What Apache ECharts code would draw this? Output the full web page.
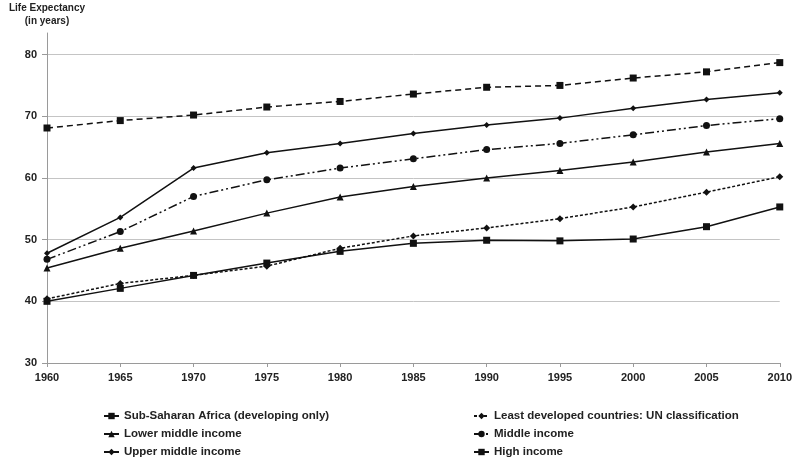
<!DOCTYPE html>
<html>
<head>
<meta charset="utf-8">
<script src="https://cdn.jsdelivr.net/npm/echarts@6/dist/echarts.min.js"></script>
<style>
  html, body { margin: 0; padding: 0; background: #fff; }
  #chart { width: 795px; height: 458px; }
</style>
</head>
<body>
<div id="chart"></div>
<script>
// Life expectancy at birth by income group, 1960–2010
const years = ['1960', '1965', '1970', '1975', '1980', '1985', '1990', '1995', '2000', '2005', '2010'];
const yTicks = [30, 40, 50, 60, 70, 80];

const subSaharanAfrica = [40.0, 42.1, 44.2, 46.2, 48.1, 49.4, 49.9, 49.8, 50.1, 52.1, 55.3];
const leastDeveloped   = [40.4, 42.9, 44.2, 45.7, 48.6, 50.6, 51.9, 53.4, 55.3, 57.7, 60.2];
const lowerMiddle      = [45.4, 48.6, 51.4, 54.3, 56.9, 58.6, 60.0, 61.2, 62.6, 64.2, 65.6];
const middleIncome     = [46.8, 51.3, 57.0, 59.7, 61.6, 63.1, 64.6, 65.6, 67.0, 68.5, 69.6];
const upperMiddle      = [47.8, 53.6, 61.6, 64.1, 65.6, 67.2, 68.6, 69.7, 71.3, 72.7, 73.8];
const highIncome       = [68.1, 69.3, 70.2, 71.5, 72.4, 73.6, 74.7, 75.0, 76.2, 77.2, 78.7];

const names = {
  ssa: 'Sub-Saharan Africa (developing only)',
  ldc: 'Least developed countries: UN classification',
  lmi: 'Lower middle income',
  mi: 'Middle income',
  umi: 'Upper middle income',
  hi: 'High income'
};

const ink = '#111';
const font = 'Liberation Sans, Arial, sans-serif';

function line(name, data, symbol, size, dash) {
  return {
    name: name,
    type: 'line',
    data: data,
    symbol: symbol,
    symbolSize: size,
    showSymbol: true,
    animation: false,
    itemStyle: { color: ink },
    lineStyle: { color: ink, width: 1.5, type: dash || 'solid' }
  };
}

const legendText = { fontFamily: font, fontSize: 11.5, fontWeight: 'bold', color: '#222' };
const legendBase = {
  orient: 'vertical', top: 410, height: 80, padding: 0,
  itemGap: 6, itemWidth: 15, itemHeight: 8,
  textStyle: legendText
};

const chart = echarts.init(document.getElementById('chart'), null, { renderer: 'canvas' });
chart.setOption({
  backgroundColor: '#fff',
  animation: false,
  grid: { left: 47, right: 12, top: 33, bottom: 95, containLabel: false },
  xAxis: {
    type: 'category',
    data: years,
    boundaryGap: false,
    axisLine: { lineStyle: { color: '#9a9a9a', width: 1 } },
    axisTick: { show: true, length: 4, lineStyle: { color: '#9a9a9a' } },
    axisLabel: { fontFamily: font, fontSize: 11, fontWeight: 'bold', color: '#222', margin: 9 },
    splitLine: { show: false }
  },
  yAxis: {
    type: 'value',
    min: 30,
    max: 83.5,
    name: 'Life Expectancy\n(in years)',
    nameLocation: 'end',
    nameGap: 5,
    nameTextStyle: { fontFamily: font, fontSize: 10, fontWeight: 'bold', color: '#222', lineHeight: 13, align: 'center' },
    axisLine: { show: true, lineStyle: { color: '#9a9a9a', width: 1 } },
    axisTick: { show: true, length: 5, lineStyle: { color: '#9a9a9a' }, customValues: yTicks },
    axisLabel: { fontFamily: font, fontSize: 11, fontWeight: 'bold', color: '#222', margin: 10, customValues: yTicks },
    splitLine: { show: true, lineStyle: { color: '#c4c4c4', width: 1 } }
  },
  legend: [
    Object.assign({}, legendBase, { left: 103, data: [names.ssa, names.lmi, names.umi] }),
    Object.assign({}, legendBase, { left: 473, data: [names.ldc, names.mi, names.hi] })
  ],
  series: [
    line(names.ssa, subSaharanAfrica, 'rect', 7),
    line(names.ldc, leastDeveloped, 'diamond', 7, [3, 2]),
    line(names.lmi, lowerMiddle, 'triangle', 7),
    line(names.mi, middleIncome, 'circle', 7, [9, 3, 2, 3, 2, 3]),
    line(names.umi, upperMiddle, 'diamond', 6),
    line(names.hi, highIncome, 'rect', 7, [6, 4])
  ]
});
</script>
</body>
</html>
